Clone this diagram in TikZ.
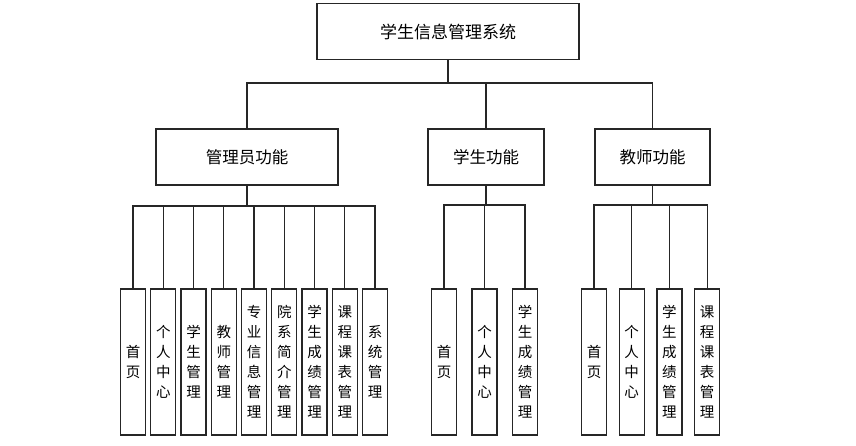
\documentclass[tikz,border=0pt]{standalone}
\usepackage{fontspec}
\setmainfont{Noto Sans CJK SC}
\begin{document}
\begin{tikzpicture}[x=1pt, y=-1pt,
		box/.style={rectangle, draw=black!85, line width=1.2pt, minimum height=56pt, inner sep=0pt, font=\fontsize{16.5}{18}\selectfont},
		leaf/.style={rectangle, draw=black!85, line width=1.2pt, minimum width=25pt, minimum height=146pt, text width=16pt, align=center, inner sep=0pt, font=\fontsize{14.5}{20}\selectfont},
		link/.style={draw=black!85, line width=1.2pt}
		]
		\useasboundingbox (0,0) rectangle (856,446);
		% top level
		\node[box, minimum width=262pt, font=\fontsize{17}{19}\selectfont] (root) at (448,31.5) {学生信息管理系统};
		\node[box, minimum width=182pt] (adm) at (247,157) {管理员功能};
		\node[box, minimum width=116pt] (stu) at (486,157) {学生功能};
		\node[box, minimum width=115pt] (tea) at (652.5,157) {教师功能};
		
		\coordinate (rb) at (448,83);
		\draw[link] (root.south) -- (rb);
		\draw[link] (rb) -| (adm.north);
		\draw[link] (rb) -| (stu.north);
		\draw[link] (rb) -| (tea.north);
		
		% bus points under each branch
		\coordinate (ab) at (247,206);
		\coordinate (sb) at (486,205);
		\coordinate (tb) at (652.5,205);
		\draw[link] (adm.south) -- (ab);
		\draw[link] (stu.south) -- (sb);
		\draw[link] (tea.south) -- (tb);
		
		% leaves
		\foreach \t [count=\i from 0] in {{首\\页}, {个\\人\\中\\心}, {学\\生\\管\\理}, {教\\师\\管\\理}, {专\\业\\信\\息\\管\\理}, {院\\系\\简\\介\\管\\理}, {学\\生\\成\\绩\\管\\理}, {课\\程\\课\\表\\管\\理}, {系\\统\\管\\理}} {
			\node[leaf] (a\i) at ({133+30.25*\i},362) {\t};
			\draw[link] (ab) -| (a\i.north);
		}
		\foreach \t [count=\i from 0] in {{首\\页}, {个\\人\\中\\心}, {学\\生\\成\\绩\\管\\理}} {
			\node[leaf] (s\i) at ({444+40.5*\i},362) {\t};
			\draw[link] (sb) -| (s\i.north);
		}
		\foreach \t [count=\i from 0] in {{首\\页}, {个\\人\\中\\心}, {学\\生\\成\\绩\\管\\理}, {课\\程\\课\\表\\管\\理}} {
			\node[leaf] (t\i) at ({594+37.7*\i},362) {\t};
			\draw[link] (tb) -| (t\i.north);
		}
	\end{tikzpicture}
\end{document}
